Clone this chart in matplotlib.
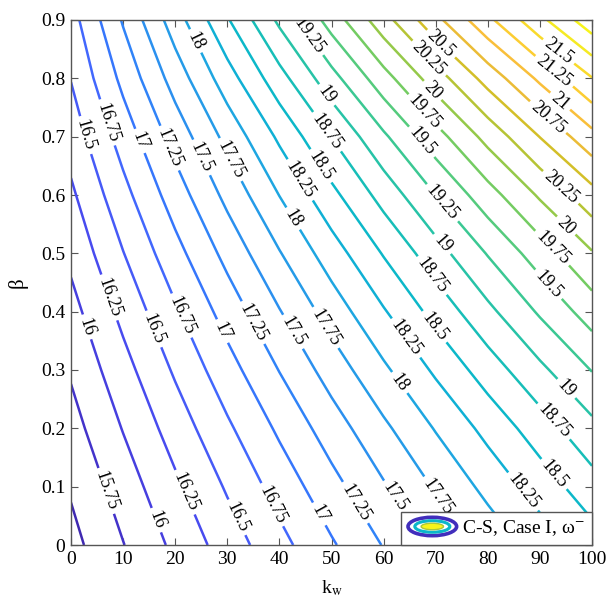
import numpy as np
import matplotlib
matplotlib.use("Agg")
import matplotlib.pyplot as plt
from matplotlib.colors import LinearSegmentedColormap, Normalize
from matplotlib.legend_handler import HandlerBase
from matplotlib.patches import Ellipse
from matplotlib.lines import Line2D
from matplotlib.path import Path

# ---------------- data ----------------
k_w = [0, 10, 20, 30, 40, 50, 60, 70, 80, 90, 100]
beta = [0.0, 0.1, 0.2, 0.3, 0.4, 0.5, 0.6, 0.7, 0.8, 0.9]

Z_b00 = [15.420, 15.741, 16.057, 16.367, 16.671, 16.970, 17.263, 17.551, 17.833, 18.109, 18.380]
Z_b01 = [15.530, 15.869, 16.202, 16.529, 16.850, 17.165, 17.474, 17.777, 18.074, 18.365, 18.650]
Z_b02 = [15.655, 16.012, 16.363, 16.707, 17.044, 17.375, 17.699, 18.017, 18.328, 18.632, 18.930]
Z_b03 = [15.780, 16.160, 16.534, 16.900, 17.258, 17.610, 17.954, 18.292, 18.622, 18.944, 19.260]
Z_b04 = [15.915, 16.319, 16.715, 17.104, 17.486, 17.860, 18.227, 18.586, 18.938, 19.283, 19.620]
Z_b05 = [16.060, 16.492, 16.914, 17.328, 17.734, 18.130, 18.518, 18.896, 19.266, 19.628, 19.980]
Z_b06 = [16.205, 16.670, 17.124, 17.569, 18.005, 18.430, 18.846, 19.251, 19.647, 20.034, 20.410]
Z_b07 = [16.360, 16.858, 17.347, 17.826, 18.296, 18.757, 19.208, 19.650, 20.083, 20.506, 20.920]
Z_b08 = [16.510, 17.066, 17.608, 18.138, 18.656, 19.160, 19.652, 20.130, 20.596, 21.050, 21.490]
Z_b09 = [16.650, 17.275, 17.883, 18.475, 19.051, 19.610, 20.153, 20.679, 21.189, 21.683, 22.160]

level_min, level_max, level_step = 15.5, 22.0, 0.25

x_ticks = [0, 10, 20, 30, 40, 50, 60, 70, 80, 90, 100]
y_ticks = [0, 0.1, 0.2, 0.3, 0.4, 0.5, 0.6, 0.7, 0.8, 0.9]
legend_label = "C-S, Case I, ω$^{-}$"
x_label = r"k$_{\rm w}$"
y_label = "β"

# label placement hints (k_w, beta) per contour level
label_hints = {
    15.75: [(6.2, 0.091)],
    16.0: [(3.1, 0.374), (16.5, 0.043)],
    16.25: [(6.9, 0.423), (21.5, 0.089)],
    16.5: [(1.7, 0.700), (16.1, 0.371), (31.5, 0.046)],
    16.75: [(6.1, 0.722), (21.4, 0.394), (38.6, 0.069)],
    17.0: [(13.6, 0.694), (29.6, 0.369), (47.2, 0.051)],
    17.25: [(18.0, 0.677), (35.3, 0.383), (53.9, 0.069)],
    17.5: [(24.0, 0.660), (42.7, 0.366), (62.8, 0.086)],
    17.75: [(30.5, 0.660), (49.7, 0.377), (70.2, 0.082)],
    18.0: [(23.2, 0.861), (42.7, 0.560), (63.8, 0.283)],
    18.25: [(44.0, 0.626), (65.1, 0.360), (87.1, 0.094)],
    18.5: [(47.8, 0.649), (70.2, 0.377), (92.9, 0.123)],
    18.75: [(47.8, 0.700), (69.5, 0.463), (92.9, 0.214)],
    19.0: [(48.8, 0.770), (71.8, 0.520), (95.4, 0.271)],
    19.25: [(44.5, 0.866), (70.8, 0.583)],
    19.5: [(67.0, 0.689), (91.9, 0.449)],
    19.75: [(67.9, 0.742), (92.9, 0.514)],
    20.0: [(69.5, 0.780), (95.2, 0.549)],
    20.25: [(68.3, 0.831), (94.4, 0.617)],
    20.5: [(71.2, 0.861)],
    20.75: [(91.9, 0.737)],
    21.0: [(94.4, 0.766)],
    21.25: [(92.9, 0.814)],
    21.5: [(93.5, 0.845)],
}

# ---------------- style ----------------
plt.rcParams["font.family"] = ["Liberation Serif", "DejaVu Serif"]
plt.rcParams["mathtext.fontset"] = "stix"

parula_pts = [
    (0.2422, 0.1504, 0.6603), (0.2706, 0.2147, 0.8364), (0.2813, 0.3006, 0.9414),
    (0.2699, 0.3892, 0.9906), (0.1963, 0.4847, 0.9892), (0.1687, 0.5703, 0.9359),
    (0.1248, 0.6459, 0.8883), (0.0297, 0.7082, 0.8163), (0.0964, 0.7500, 0.7120),
    (0.2161, 0.7843, 0.5923), (0.3909, 0.8029, 0.4354), (0.6174, 0.7876, 0.2612),
    (0.8203, 0.7498, 0.1535), (0.9728, 0.7298, 0.2394), (0.9892, 0.8136, 0.1885),
    (0.9597, 0.9135, 0.1423), (0.9769, 0.9839, 0.0805),
]
parula = LinearSegmentedColormap.from_list("parula", parula_pts)

K, B = np.meshgrid(np.array(k_w, float), np.array(beta, float))
Z = np.array([Z_b00, Z_b01, Z_b02, Z_b03, Z_b04, Z_b05, Z_b06, Z_b07, Z_b08, Z_b09])
levels = np.arange(level_min, level_max + level_step / 2, level_step)

fig = plt.figure(figsize=(6.09, 6.05), dpi=100)
ax = fig.add_axes([71 / 609, 60 / 605, (592 - 71) / 609, (545 - 20) / 605])

cs = ax.contour(K, B, Z, levels=levels, cmap=parula,
                norm=Normalize(vmin=Z.min(), vmax=Z.max()), linewidths=1.8)
ax.set_xlim(0, 100)
ax.set_ylim(0, 0.9)

fmt = lambda v: f"{v:g}"
cs.clabel(manual=[], fmt=fmt, fontsize=13, inline=True, inline_spacing=4,
          colors="black")

lev_list = [float(v) for v in cs.levels]


def nearest_on_level(idx, x, y):
    path = cs.get_paths()[idx]
    verts = path.vertices
    codes = path.codes
    d = ax.transData.transform(verts)
    p = ax.transData.transform((x, y))
    best, best_d = None, np.inf
    for j in range(len(d) - 1):
        if codes is not None and codes[j + 1] == Path.MOVETO:
            continue
        a, b = d[j], d[j + 1]
        ab = b - a
        den = float(np.dot(ab, ab))
        t = 0.0 if den == 0 else float(np.clip(np.dot(p - a, ab) / den, 0, 1))
        q = a + t * ab
        dist = float(np.hypot(*(p - q)))
        if dist < best_d:
            best, best_d = q, dist
    return ax.transData.inverted().transform(best)


for lev, pts in label_hints.items():
    idx = lev_list.index(lev)
    for (x, y) in pts:
        xd, yd = nearest_on_level(idx, x, y)
        cs.add_label_near(xd, yd, inline=True, inline_spacing=4)

ax.set_xticks(x_ticks)
ax.set_yticks(y_ticks)
ax.set_xticklabels([f"{v:g}" for v in x_ticks])
ax.set_yticklabels([f"{v:g}" for v in y_ticks])
ax.tick_params(direction="in", top=True, right=True, length=5, width=0.8,
               color="#555555", labelsize=14, pad=4)
for s in ax.spines.values():
    s.set_color("#555555")
    s.set_linewidth(1.0)

ax.set_xlabel(x_label, fontsize=14, labelpad=8)
ax.set_ylabel(y_label, fontsize=15, labelpad=10)


class ContourIcon(HandlerBase):
    def create_artists(self, legend, orig_handle, xdescent, ydescent,
                       width, height, fontsize, trans):
        cx = width / 2 - xdescent
        cy = height / 2 - ydescent
        arts = [
            Ellipse((cx, cy), width * 1.0, height * 1.35, facecolor="white",
                    edgecolor=parula(0.03), linewidth=2.6),
            Ellipse((cx, cy), width * 0.72, height * 0.85, facecolor="white",
                    edgecolor=parula(0.45), linewidth=2.2),
            Ellipse((cx, cy), width * 0.46, height * 0.48, facecolor=parula(0.98),
                    edgecolor=parula(0.7), linewidth=1.0),
        ]
        for a in arts:
            a.set_transform(trans)
        return arts


dummy = Line2D([], [])
leg = ax.legend([dummy], [legend_label], loc="lower right",
                bbox_to_anchor=(1.0, 0.0), borderaxespad=0.0,
                handler_map={dummy: ContourIcon()}, fontsize=14,
                fancybox=False, framealpha=1.0, edgecolor="#555555",
                handlelength=2.5, handletextpad=0.3, borderpad=0.35)
leg.get_frame().set_linewidth(1.0)

fig.savefig("out.png", dpi=100)
